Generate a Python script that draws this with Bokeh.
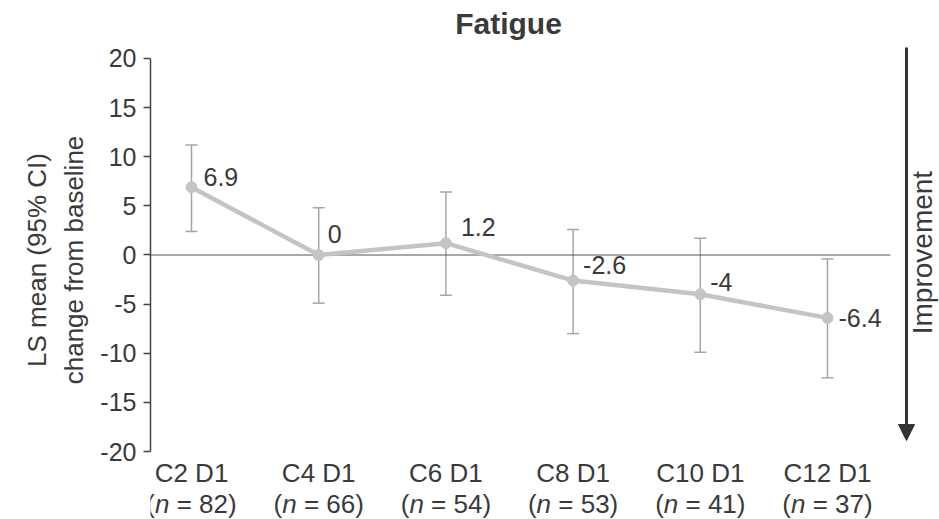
import math
from bokeh.plotting import figure
from bokeh.models import (ColumnDataSource, Range1d, FixedTicker, Whisker, TeeHead,
                          Label, Arrow, NormalHead)
from bokeh.embed import file_html
from bokeh.resources import INLINE

# ---- data ----
visits = ["C2 D1", "C4 D1", "C6 D1", "C8 D1", "C10 D1", "C12 D1"]
n_patients = [82, 66, 54, 53, 41, 37]
ls_mean = [6.9, 0, 1.2, -2.6, -4, -6.4]
ci_upper = [11.2, 4.8, 6.4, 2.6, 1.7, -0.4]
ci_lower = [2.4, -4.9, -4.1, -8.0, -9.9, -12.5]
mean_labels = ["6.9", "0", "1.2", "-2.6", "-4", "-6.4"]
y_ticks = [-20, -15, -10, -5, 0, 5, 10, 15, 20]

# ---- style / layout ----
FONT = "Liberation Sans"
TXT = "#3a3a3a"
LINE_GRAY = "#c4c4c4"
ERR_GRAY = "#a6a6a6"
label_dx = [12, 9, 15, 10, 10, 11]
label_dy = [10, 21, 16, 16, 12, 0]

idx = list(range(len(visits)))
src = ColumnDataSource(dict(x=idx, y=ls_mean, upper=ci_upper, lower=ci_lower))

p = figure(width=939, height=519, output_backend="svg", toolbar_location=None,
           x_range=Range1d(-0.3223, 5.8805), y_range=Range1d(-26.921, 25.903),
           x_axis_location=None, min_border_left=150, min_border_right=0,
           min_border_top=0, min_border_bottom=0)
p.outline_line_color = None
p.xgrid.visible = False
p.ygrid.visible = False
p.background_fill_color = "white"
p.border_fill_color = "white"

# y axis
ax = p.yaxis[0]
ax.ticker = FixedTicker(ticks=y_ticks)
ax.major_label_overrides = {t: str(t) for t in y_ticks}
ax.bounds = (-20, 20)
ax.axis_line_color = "#444444"
ax.axis_line_width = 1.5
ax.major_tick_line_color = "#444444"
ax.major_tick_line_width = 1.5
ax.major_tick_out = 7
ax.major_tick_in = 0
ax.minor_tick_line_color = None
ax.major_label_standoff = 7
ax.major_label_text_font = FONT
ax.major_label_text_font_size = "25px"
ax.major_label_text_color = TXT
ax.axis_label = "LS mean (95% CI)\nchange from baseline"
ax.axis_label_text_font = FONT
ax.axis_label_text_font_size = "26px"
ax.axis_label_text_font_style = "normal"
ax.axis_label_text_color = TXT
ax.axis_label_text_line_height = 1.25
ax.axis_label_standoff = 8

# zero reference line
p.segment(x0=[-0.3223], x1=[5.495], y0=[0], y1=[0], line_color="#555555", line_width=1.2)

# error bars
p.add_layout(Whisker(source=src, base="x", upper="upper", lower="lower",
                     line_color=ERR_GRAY, line_width=1.5,
                     upper_head=TeeHead(size=12, line_color=ERR_GRAY, line_width=1.5),
                     lower_head=TeeHead(size=12, line_color=ERR_GRAY, line_width=1.5)))

# line + markers
p.line("x", "y", source=src, line_color=LINE_GRAY, line_width=4.5)
p.scatter("x", "y", source=src, size=11, fill_color=LINE_GRAY, line_color=LINE_GRAY)

# value labels
for i, (yv, t) in enumerate(zip(ls_mean, mean_labels)):
    p.add_layout(Label(x=idx[i], y=yv, text=t, x_offset=label_dx[i], y_offset=label_dy[i],
                       text_font=FONT, text_font_size="25px", text_color=TXT,
                       text_align="left", text_baseline="middle"))

# x category labels (two lines, italic n)
F = 26
T = 3.474 * F
Y1, Y2 = -22.19, -25.34
for i, (v, n) in enumerate(zip(visits, n_patients)):
    p.add_layout(Label(x=idx[i], y=Y1, text=v, text_font=FONT, text_font_size=f"{F}px",
                       text_color=TXT, text_align="center", text_baseline="alphabetic"))
    p.add_layout(Label(x=idx[i], y=Y2, text="(", x_offset=-T / 2, text_font=FONT,
                       text_font_size=f"{F}px", text_color=TXT, text_align="left",
                       text_baseline="alphabetic"))
    p.add_layout(Label(x=idx[i], y=Y2, text="n", x_offset=-T / 2 + 0.333 * F, text_font=FONT,
                       text_font_size=f"{F}px", text_font_style="italic", text_color=TXT,
                       text_align="left", text_baseline="alphabetic"))
    p.add_layout(Label(x=idx[i], y=Y2, text=f"= {n})", x_offset=-T / 2 + 1.167 * F,
                       text_font=FONT, text_font_size=f"{F}px", text_color=TXT,
                       text_align="left", text_baseline="alphabetic"))

# title
p.add_layout(Label(x=2.492, y=23.53, text="Fatigue", text_font=FONT, text_font_size="30px",
                   text_font_style="bold", text_color=TXT, text_align="center",
                   text_baseline="alphabetic"))

# improvement arrow
p.add_layout(Arrow(x_start=5.621, y_start=21.12, x_end=5.621, y_end=-18.88,
                   line_color="#333333", line_width=3,
                   end=NormalHead(size=16, fill_color="#333333", line_color="#333333")))
p.add_layout(Label(x=5.75, y=0.25, text="Improvement", angle=math.pi / 2,
                   text_font=FONT, text_font_size="28px", text_color=TXT,
                   text_align="center", text_baseline="middle"))

open("out.html", "w").write(file_html(p, INLINE))
